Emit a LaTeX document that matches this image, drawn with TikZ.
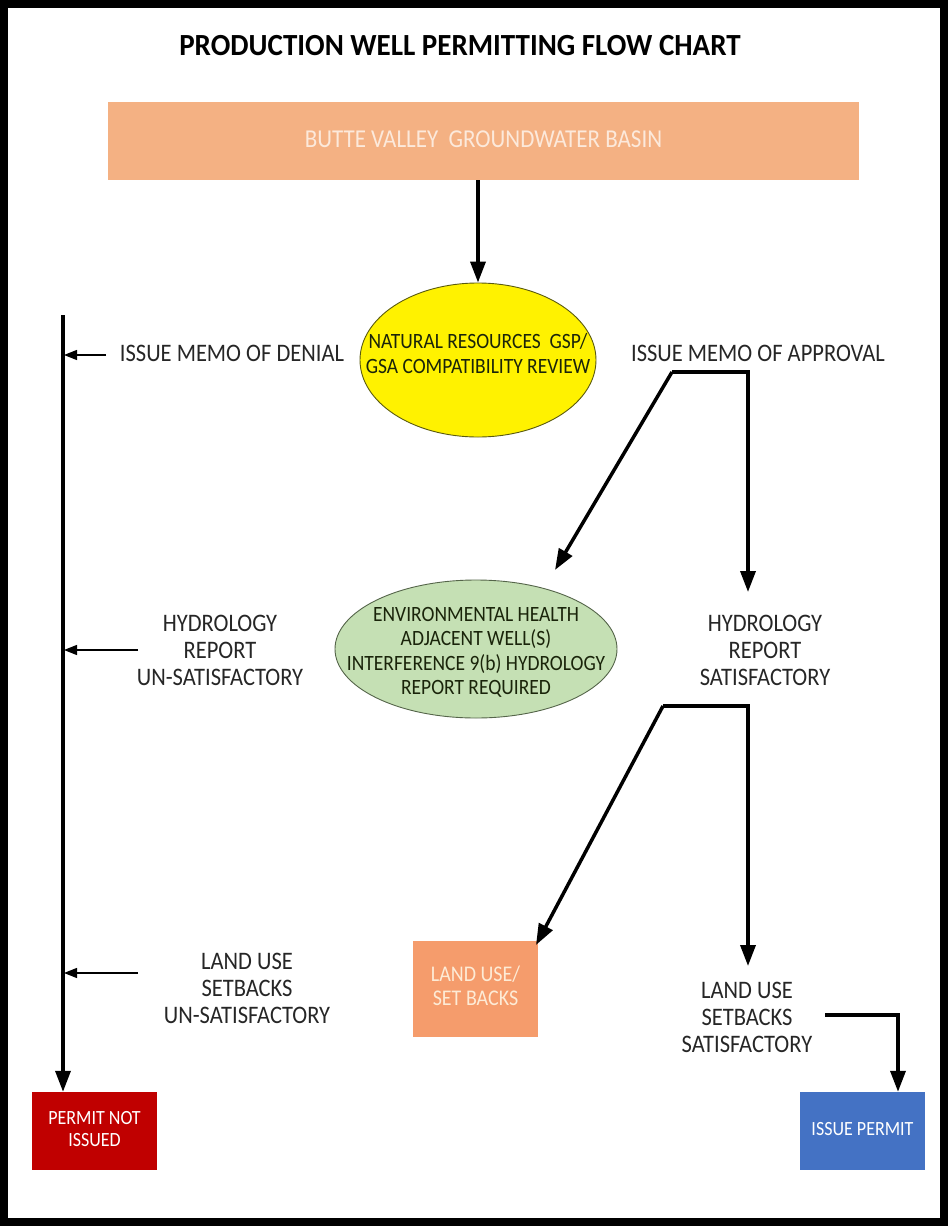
\documentclass[tikz,border=0pt]{standalone}
\usepackage{fontspec}
\usepackage{graphicx}
\setmainfont{Carlito}
\usetikzlibrary{arrows.meta,shapes.geometric}
\definecolor{peach}{HTML}{F4B183}
\definecolor{peachtext}{HTML}{FCE9DB}
\definecolor{salmon}{HTML}{F59C6C}
\definecolor{cream}{HTML}{FDEBD6}
\definecolor{txt}{HTML}{262626}
\definecolor{ellipsetxt}{HTML}{1A240A}
\definecolor{yellowedge}{HTML}{5A5A10}
\definecolor{greenfill}{HTML}{C5E0B4}
\definecolor{greenedge}{HTML}{55654A}
\definecolor{redbox}{HTML}{C00000}
\definecolor{bluebox}{HTML}{4472C4}
\newcommand\vtext[1]{\scalebox{1}[1.12]{\begin{tabular}{@{}c@{}}#1\end{tabular}}}
\begin{document}
\begin{tikzpicture}[x=1pt,y=-1pt,
  lbl/.style={font=\fontsize{22.5}{24.5}\selectfont, text=txt, inner sep=0pt},
  elltxt/.style={font=\fontsize{19.5}{22.3}\selectfont, text=ellipsetxt, inner sep=0pt},
  boxtxt/.style={inner sep=0pt, minimum width=125pt, minimum height=78pt},
  bigarrow/.style={line width=3.5pt, -{Triangle[length=21pt,width=15pt]}},
  smallarrow/.style={line width=1.2pt, -{Triangle[length=13pt,width=10pt]}}]
\useasboundingbox (0,0) rectangle (948,1226);
\draw[line width=8pt] (4,4) rectangle (944,1222);

% title
\node[font=\fontsize{29}{35}\bfseries\selectfont, inner sep=0pt] (title) at (460,46) {\scalebox{1}[1.06]{PRODUCTION WELL PERMITTING FLOW CHART}};

% top box
\node[fill=peach, minimum width=751pt, minimum height=78pt, inner sep=0pt,
      font=\fontsize{23}{28}\selectfont, text=peachtext] (basin) at (483.5,141) {\vtext{BUTTE VALLEY\ \ GROUNDWATER BASIN}};

% yellow ellipse
\node[ellipse, draw=yellowedge, line width=0.9pt, fill=yellow, minimum width=236pt, minimum height=154pt, inner sep=0pt] (nr) at (478,360) {};
\node[elltxt] (nrtext) at (478,356) {\vtext{NATURAL RESOURCES\ \ GSP/\\GSA COMPATIBILITY REVIEW}};

% green ellipse
\node[ellipse, draw=greenedge, line width=0.9pt, fill=greenfill, minimum width=282pt, minimum height=138pt, inner sep=0pt] (eh) at (476,649) {};
\node[elltxt, font=\fontsize{19.5}{21.9}\selectfont] (ehtext) at (476,653) {\vtext{ENVIRONMENTAL HEALTH\\ADJACENT WELL(S)\\INTERFERENCE 9(b) HYDROLOGY\\REPORT REQUIRED}};

% land use box
\node[fill=salmon, minimum width=125pt, minimum height=96pt, inner sep=0pt,
      font=\fontsize{20}{21}\selectfont, text=cream] (landuse) at (475.5,989) {\vtext{LAND USE/\\SET BACKS}};

% bottom boxes
\node[fill=redbox, boxtxt, font=\fontsize{18}{19.6}\selectfont, text=white] (notissued) at (94.5,1131) {\vtext{PERMIT NOT\\ISSUED}};
\node[fill=bluebox, boxtxt, font=\fontsize{18}{19.6}\selectfont, text=white] (issue) at (862.5,1131) {\vtext{ISSUE PERMIT}};

% labels
\node[lbl] (denial) at (232,356) {\vtext{ISSUE MEMO OF DENIAL}};
\node[lbl] (approval) at (758,356) {\vtext{ISSUE MEMO OF APPROVAL}};
\node[lbl] (hunsat) at (220,653) {\vtext{HYDROLOGY\\REPORT\\UN-SATISFACTORY}};
\node[lbl] (hsat) at (765,653) {\vtext{HYDROLOGY\\REPORT\\SATISFACTORY}};
\node[lbl] (lunsat) at (247,991) {\vtext{LAND USE\\SETBACKS\\UN-SATISFACTORY}};
\node[lbl] (lsat) at (747,1020) {\vtext{LAND USE\\SETBACKS\\SATISFACTORY}};

% basin -> review
\draw[bigarrow] (basin.south -| nr.north) -- (nr.north);

% denial trunk
\coordinate (ltop) at (63,315);
\draw[bigarrow] (ltop) -- (ltop |- notissued.north);

% thin arrows into trunk
\coordinate (dS) at (106,355);
\coordinate (dE) at (64,355);
\draw[smallarrow] (dS) -- (dE);
\coordinate (hS) at (138,650);
\coordinate (hE) at (64,650);
\draw[smallarrow] (hS) -- (hE);
\coordinate (lS) at (138,973);
\coordinate (lE) at (64,973);
\draw[smallarrow] (lS) -- (lE);

% approval split
\coordinate (a1) at (672,372);
\coordinate (a2) at (748,372);
\coordinate (a3) at (748,592);
\coordinate (a4) at (555,570);
\draw[bigarrow] (a1) -- (a2) -- (a3);
\draw[bigarrow] (a1) -- (a4);

% hydrology satisfactory split
\coordinate (b1) at (663,706);
\coordinate (b2) at (748,706);
\coordinate (b3) at (748,966);
\coordinate (b4) at (536,945);
\draw[bigarrow] (b1) -- (b2) -- (b3);
\draw[bigarrow] (b1) -- (b4);

% land use satisfactory -> issue permit
\coordinate (c1) at (825,1015);
\coordinate (c2) at (898,1015);
\draw[bigarrow] (c1) -- (c2) -- (c2 |- issue.north);
\end{tikzpicture}
\end{document}
